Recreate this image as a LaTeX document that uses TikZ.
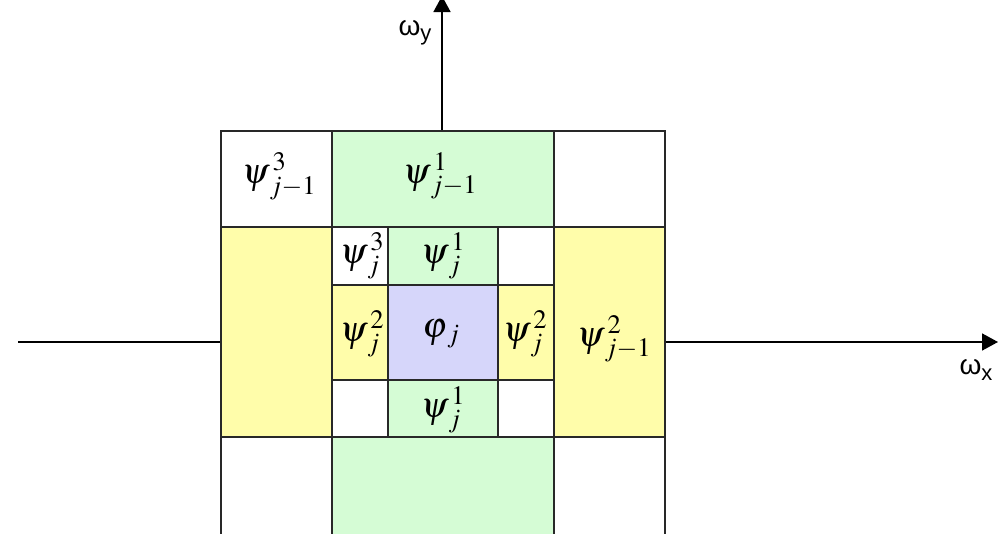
\documentclass[tikz,border=0pt]{standalone}
\usepackage{mathptmx}
\usepackage{fontspec}
\newfontfamily\arialf{Liberation Sans}
\usetikzlibrary{arrows.meta}
\definecolor{cgreen}{RGB}{213,252,213}
\definecolor{cyellow}{RGB}{255,253,170}
\definecolor{cblue}{RGB}{214,214,250}
\definecolor{cline}{RGB}{40,40,40}
\newcommand{\wlab}[3]{$#1^{\,#2}_{\,#3}$}
\tikzset{
  cell/.style={draw=cline,line width=1.3pt},
  axis/.style={draw=black,line width=1.6pt},
  lbl/.style={inner sep=0pt,font=\fontsize{36}{42}\selectfont},
  axlbl/.style={inner sep=0pt,font=\arialf\fontsize{28}{32}\selectfont},
  tip/.style={-{Triangle[width=17pt,length=16pt]}}
}
\begin{document}
\begin{tikzpicture}[x=1pt,y=-1pt]
\useasboundingbox (0,0) rectangle (1001,533);
\clip (0,0) rectangle (1001,533);
% axes
\coordinate (xl) at (18,342);
\coordinate (xr) at (998,342);
\coordinate (yb) at (442,131);
\coordinate (yt) at (442,-4);
\draw[axis,tip] (xl) -- (xr);
\draw[axis,tip] (yb) -- (yt);
% outer cells
\draw[cell,fill=white]   (221,131) rectangle (332,227);
\draw[cell,fill=cgreen]  (332,131) rectangle (554,227);
\draw[cell,fill=white]   (554,131) rectangle (665,227);
\draw[cell,fill=cyellow] (221,227) rectangle (332,437);
\draw[cell,fill=cyellow] (554,227) rectangle (665,437);
\draw[cell,fill=white]   (221,437) rectangle (332,545);
\draw[cell,fill=cgreen]  (332,437) rectangle (554,545);
\draw[cell,fill=white]   (554,437) rectangle (665,545);
% inner cells
\draw[cell,fill=white]   (332,227) rectangle (388,285);
\draw[cell,fill=cgreen]  (388,227) rectangle (498,285);
\draw[cell,fill=white]   (498,227) rectangle (554,285);
\draw[cell,fill=cyellow] (332,285) rectangle (388,380);
\draw[cell,fill=cblue]   (388,285) rectangle (498,380);
\draw[cell,fill=cyellow] (498,285) rectangle (554,380);
\draw[cell,fill=white]   (332,380) rectangle (388,437);
\draw[cell,fill=cgreen]  (388,380) rectangle (498,437);
\draw[cell,fill=white]   (498,380) rectangle (554,437);
% labels
\node[lbl] (l31) at (279,176) {\wlab{\psi}{3}{j-1}};
\node[lbl] (l11) at (440,176) {\wlab{\psi}{1}{j-1}};
\node[lbl] (l21) at (614,339) {\wlab{\psi}{2}{j-1}};
\node[lbl] (l3) at (362,256) {\wlab{\psi}{3}{j}};
\node[lbl] (l1t) at (443,256) {\wlab{\psi}{1}{j}};
\node[lbl] (l2l) at (362,334) {\wlab{\psi}{2}{j}};
\node[lbl] (phi) at (441,334) {$\varphi_{\,j}$};
\node[lbl] (l2r) at (525,334) {\wlab{\psi}{2}{j}};
\node[lbl] (l1b) at (443,410) {\wlab{\psi}{1}{j}};
\node[axlbl] (wy) at (415,33) {ω\raisebox{-0.35ex}{\fontsize{22}{26}\selectfont y}};
\node[axlbl] (wx) at (976,370) {ω\raisebox{-0.35ex}{\fontsize{22}{26}\selectfont x}};
\end{tikzpicture}
\end{document}
